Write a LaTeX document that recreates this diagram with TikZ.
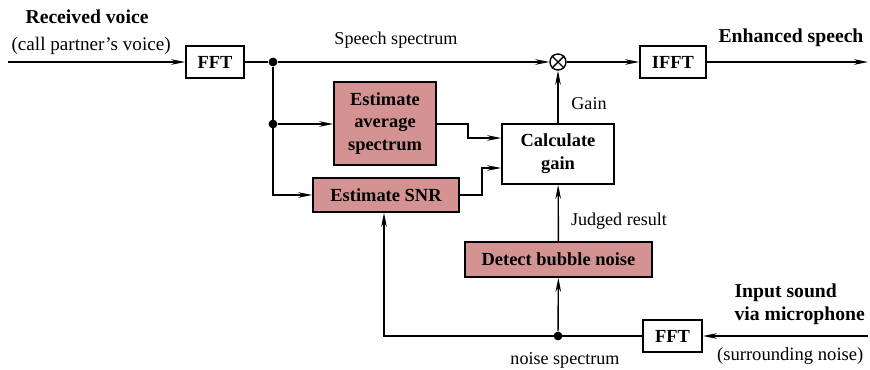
\documentclass[tikz,border=0pt]{standalone}
\usepackage{fontspec}
\setmainfont{Liberation Serif}
\usetikzlibrary{arrows.meta}
\definecolor{blockred}{RGB}{212,146,146}
\begin{document}
\begin{tikzpicture}[x=0.02cm,y=-0.02cm,
    font=\fontsize{10.3}{12}\selectfont,
    >={Stealth[length=8pt,width=3.2pt]},
    line width=0.8pt,
    box/.style={draw,line width=1pt,inner sep=0pt,align=center,font=\fontsize{10.5}{13}\selectfont\bfseries},
    redbox/.style={box,fill=blockred},
    title/.style={font=\fontsize{11.2}{13}\selectfont\bfseries},
    dot/.style={circle,fill,inner sep=0pt,minimum size=5pt}]
    \useasboundingbox (0,0) rectangle (870,369);

    \node[box,minimum width=1.16cm,minimum height=0.64cm] (fft1) at (215, 62) {FFT};
    \node[box,minimum width=1.32cm,minimum height=0.64cm] (ifft) at (673, 62) {IFFT};
    \node[draw,circle,inner sep=0pt,minimum size=0.32cm] (mult) at (558, 62) {};
    \draw (mult.north west) -- (mult.south east) (mult.north east) -- (mult.south west);
    \node[redbox,minimum width=2.04cm,minimum height=1.66cm] (avg) at (385, 123.5) {Estimate\\average\\spectrum};
    \node[redbox,minimum width=2.92cm,minimum height=0.68cm] (snr) at (386, 195) {Estimate SNR};
    \node[box,fill=white,minimum width=2.24cm,minimum height=1.2cm] (gain) at (558, 154) {Calculate\\gain};
    \node[redbox,minimum width=3.74cm,minimum height=0.7cm] (bubble) at (558.5, 259.5) {Detect bubble noise};
    \node[box,minimum width=1.18cm,minimum height=0.64cm] (fft2) at (672.5, 336) {FFT};

    \coordinate (in1) at (8, 62);
    \coordinate (out1) at (868, 62);
    \coordinate (in2) at (868, 336);
    \node[dot] (j1) at (273, 62) {};
    \node[dot] (j2) at (273, 124) {};
    \node[dot] (j3) at (558, 336) {};

    \node[anchor=west,title] (rxlabel) at (19, 17) {Received voice};
    \node[anchor=west,font=\fontsize{10.9}{12}\selectfont] (partner) at (5, 46) {(call partner’s voice)};
    \node[anchor=east,title] (enh) at (870, 38) {Enhanced speech};
    \node (speech) at (396, 40) {Speech spectrum};
    \node (gainlbl) at (589, 104) {Gain};
    \node (judged) at (619, 221) {Judged result};
    \node[anchor=west,align=left,title] (mic) at (728, 304) {Input sound\\via microphone};
    \node[anchor=east,font=\fontsize{10.6}{12}\selectfont] (surround) at (870, 356) {(surrounding noise)};
    \node (noisespec) at (565, 360) {noise spectrum};

    \draw[->] (in1) -- (fft1);
    \draw (fft1) -- (j1);
    \draw[->] (j1) -- (mult);
    \draw[->] (mult) -- (ifft);
    \draw[->] (ifft) -- (out1);
    \draw[->] (j1) |- (snr.west);
    \draw[->] (j2) -- (avg.west |- j2);
    \draw[->] (avg.east |- j2) -| (468, 138) -- (gain.west |- 0, 138);
    \draw[->] (snr.east) -| (482, 168) -- (gain.west |- 0, 168);
    \draw[->] (gain) -- (mult);
    \draw[->] (bubble) -- (gain);
    \draw[->] (in2) -- (fft2);
    \draw[->] (fft2) -| (snr.south -| 384, 0);
    \draw[->] (j3) -- (bubble);
\end{tikzpicture}
\end{document}
